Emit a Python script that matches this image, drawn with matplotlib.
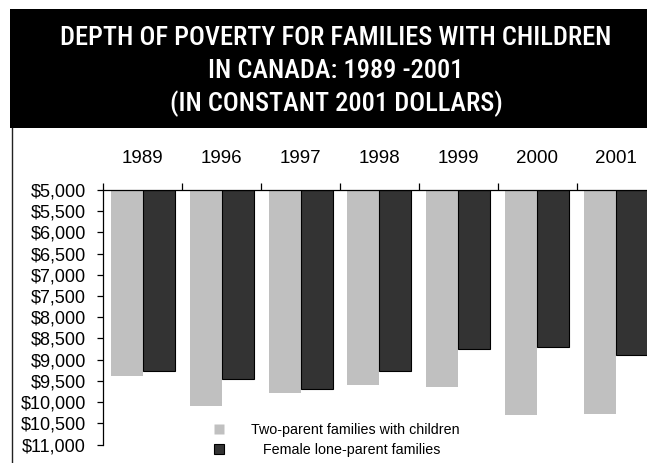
import matplotlib
matplotlib.use("Agg")
import matplotlib.pyplot as plt
from matplotlib.patches import Rectangle
from matplotlib.lines import Line2D
from matplotlib.ticker import FuncFormatter, MultipleLocator
from matplotlib import font_manager

years = ["1989", "1996", "1997", "1998", "1999", "2000", "2001"]
two_parent = [9380, 10090, 9780, 9600, 9640, 10300, 10280]
lone_parent = [9270, 9450, 9680, 9270, 8760, 8710, 8900]
series_labels = ["Two-parent families with children", "   Female lone-parent families"]
title_lines = ["DEPTH OF POVERTY FOR FAMILIES WITH CHILDREN",
               "IN CANADA: 1989 -2001",
               "(IN CONSTANT 2001 DOLLARS)"]

BASE = 5000
LIGHT = "#c0c0c0"
DARK = "#333333"


def pick_font(candidates):
    for name in candidates:
        try:
            font_manager.findfont(font_manager.FontProperties(family=name),
                                  fallback_to_default=False)
            return name
        except Exception:
            continue
    return "DejaVu Sans"


body_font = pick_font(["Liberation Sans", "Arial", "DejaVu Sans"])
title_font = pick_font(["Liberation Sans Narrow", "Arial Narrow", "Roboto Condensed"])
title_stretch = "normal" if "Narrow" in title_font or "Condensed" in title_font else "condensed"

plt.rcParams["font.family"] = body_font

W, H = 647, 463
fig = plt.figure(figsize=(W / 100, H / 100), dpi=100)

# black title banner
fig.add_artist(Rectangle((10 / W, 1 - 128 / H), 1.0, (128 - 9) / H,
                         transform=fig.transFigure, facecolor="black",
                         edgecolor="none", zorder=0))
for i, line in enumerate(title_lines):
    fig.text(336 / W, 1 - (38 + i * 33) / H, line, color="white",
             ha="center", va="center", fontsize=19, family=title_font,
             stretch=title_stretch, weight="medium")

# thin frame line on the left edge of the chart area
fig.add_artist(Line2D([11.5 / W, 11.5 / W], [0, 1 - 128 / H],
                      transform=fig.transFigure, color="#222222", lw=1.0))

# plot area
left, right = 103.3, 655.6
top, bottom = 190.0, 444.5
ax = fig.add_axes([left / W, 1 - bottom / H, (right - left) / W, (bottom - top) / H])

n = len(years)
xs = list(range(n))
bw = 0.405
ax.bar([x - bw / 2 for x in xs], [v - BASE for v in two_parent], width=bw,
       bottom=BASE, color=LIGHT, edgecolor="none", label=series_labels[0], zorder=2)
ax.bar([x + bw / 2 for x in xs], [v - BASE for v in lone_parent], width=bw,
       bottom=BASE, color=DARK, edgecolor="black", linewidth=0.8,
       label=series_labels[1], zorder=2)

ax.set_xlim(-0.5, n - 0.5)
ax.set_ylim(11000, 5000)

for side in ("right", "bottom"):
    ax.spines[side].set_visible(False)
for side in ("left", "top"):
    ax.spines[side].set_linewidth(0.9)
    ax.spines[side].set_color("black")

ax.yaxis.set_major_locator(MultipleLocator(500))
ax.yaxis.set_major_formatter(FuncFormatter(lambda v, _: f"${v:,.0f}"))
ax.tick_params(axis="y", which="major", length=4, width=0.9, pad=8.5,
               labelsize=13, colors="black")

ax.xaxis.tick_top()
ax.set_xticks(xs)
ax.set_xticklabels(years)
ax.set_xticks([x - 0.5 for x in range(n + 1)], minor=True)
ax.tick_params(axis="x", which="major", length=0, pad=16.5, labelsize=13.5)
ax.tick_params(axis="x", which="minor", length=5, width=0.9, top=True, bottom=False)

handles = [
    Line2D([], [], marker="s", linestyle="none", markersize=7.2,
           markerfacecolor=LIGHT, markeredgecolor="none"),
    Line2D([], [], marker="s", linestyle="none", markersize=7.2,
           markerfacecolor=DARK, markeredgecolor="black", markeredgewidth=0.8),
]
fig.legend(handles, series_labels, loc="upper left",
           bbox_to_anchor=(211.4 / W, 1 - 423.0 / H), frameon=False,
           fontsize=10.3, handlelength=1.0, handletextpad=1.75,
           borderpad=0, borderaxespad=0, labelspacing=0.45)

fig.savefig("out.png", dpi=100, facecolor="white")
